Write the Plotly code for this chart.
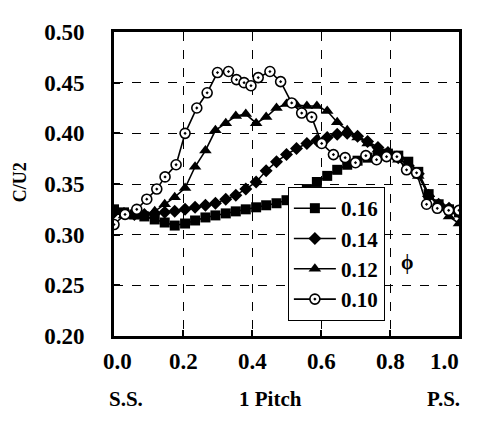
import plotly.graph_objects as go

# ---- data ----
x_std = [0.0, 0.029, 0.059, 0.088, 0.118, 0.147, 0.176, 0.206, 0.235, 0.265,
         0.294, 0.324, 0.353, 0.382, 0.412, 0.441, 0.471, 0.5, 0.529, 0.559,
         0.588, 0.618, 0.647, 0.676, 0.706, 0.735, 0.765, 0.794, 0.824, 0.853,
         0.882, 0.912, 0.941, 0.971, 1.0]

y_016 = [0.325, 0.322, 0.320, 0.318, 0.315, 0.312, 0.309, 0.311, 0.314, 0.317,
         0.319, 0.321, 0.323, 0.325, 0.327, 0.329, 0.331, 0.334, 0.339, 0.345,
         0.352, 0.358, 0.364, 0.369, 0.373, 0.376, 0.379, 0.380, 0.378, 0.372,
         0.362, 0.340, 0.330, 0.325, 0.322]

y_014 = [0.322, 0.321, 0.320, 0.320, 0.321, 0.322, 0.323, 0.325, 0.327, 0.329,
         0.331, 0.335, 0.339, 0.345, 0.352, 0.363, 0.372, 0.379, 0.385, 0.390,
         0.393, 0.396, 0.399, 0.400, 0.397, 0.392, 0.386, 0.381, 0.376, 0.368,
         0.360, 0.338, 0.330, 0.326, 0.322]

y_012 = [0.322, 0.319, 0.318, 0.319, 0.323, 0.330, 0.337, 0.346, 0.367, 0.383,
         0.403, 0.410, 0.417, 0.419, 0.410, 0.416, 0.425, 0.429, 0.428, 0.427,
         0.427, 0.422, 0.411, 0.403, 0.396, 0.390, 0.384, 0.380, 0.374, 0.364,
         0.358, 0.340, 0.328, 0.318, 0.311]

x_010 = [0.0, 0.032, 0.066, 0.095, 0.124, 0.148, 0.18, 0.206, 0.24, 0.27,
         0.30, 0.332, 0.355, 0.377, 0.397, 0.418, 0.452, 0.483, 0.515, 0.544,
         0.573, 0.602, 0.636, 0.67, 0.70, 0.73, 0.761, 0.79, 0.82, 0.848,
         0.877, 0.906, 0.937, 0.97, 1.0]
y_010 = [0.310, 0.320, 0.325, 0.335, 0.345, 0.357, 0.369, 0.400, 0.425, 0.440,
         0.460, 0.461, 0.453, 0.450, 0.447, 0.455, 0.461, 0.451, 0.430, 0.420,
         0.416, 0.390, 0.379, 0.376, 0.371, 0.378, 0.374, 0.377, 0.377, 0.364,
         0.361, 0.330, 0.326, 0.324, 0.324]

x_ticks = [0.0, 0.2, 0.4, 0.6, 0.8, 1.0]
x_ticktext = ["0.0", "0.2", "0.4", "0.6", "0.8", "1.0"]
y_ticks = [0.20, 0.25, 0.30, 0.35, 0.40, 0.45, 0.50]
y_ticktext = ["0.20", "0.25", "0.30", "0.35", "0.40", "0.45", "0.50"]

SERIF = "Liberation Serif"

fig = go.Figure()

series = [
    ("0.16", x_std, y_016, dict(symbol="square", size=10, color="black")),
    ("0.14", x_std, y_014, dict(symbol="diamond", size=10, color="black")),
    ("0.12", x_std, y_012, dict(symbol="triangle-up", size=11, color="black")),
    ("0.10", x_010, y_010, dict(symbol="circle-dot", size=10, color="white",
                                line=dict(color="black", width=1.6))),
]
for name, xs, ys, mk in series:
    fig.add_trace(go.Scatter(
        x=xs, y=ys, name="<b>%s</b>" % name, mode="lines+markers",
        line=dict(color="black", width=1.6), marker=mk,
    ))

fig.update_xaxes(
    range=[0, 1], tickvals=x_ticks, showticklabels=False,
    showline=True, linecolor="black", linewidth=3, mirror=True,
    ticks="inside", ticklen=6, tickwidth=2, tickcolor="black",
    showgrid=True, gridcolor="black", gridwidth=1, griddash="dash",
    zeroline=False,
)
fig.update_yaxes(
    range=[0.2, 0.5], tickvals=y_ticks, ticktext=["<b>%s</b>" % t for t in y_ticktext],
    showline=True, linecolor="black", linewidth=3, mirror=True,
    ticks="inside", ticklen=6, tickwidth=2, tickcolor="black",
    showgrid=True, gridcolor="black", gridwidth=1, griddash="dash",
    zeroline=False, tickfont=dict(size=23, family=SERIF, color="black"),
    ticklabelstandoff=22,
)

annotations = []
for i, (v, t) in enumerate(zip(x_ticks, x_ticktext)):
    last = i == len(x_ticks) - 1
    annotations.append(dict(
        text="<b>%s</b>" % t, x=v, y=-0.085, xref="x", yref="paper",
        xanchor="right" if last else "center", yanchor="middle",
        xshift=2 if last else (3 if i == 0 else 0),
        showarrow=False, font=dict(size=23, family=SERIF, color="black")))

annotations += [
    dict(text="<b>C/U2</b>", textangle=-90, x=-0.272, y=0.506, xref="paper", yref="paper",
         xanchor="center", yanchor="middle", showarrow=False,
         font=dict(size=18, family=SERIF, color="black")),
    dict(text="<b>S.S.</b>", x=-0.02, y=-0.208, xref="paper", yref="paper",
         xanchor="left", yanchor="middle", showarrow=False,
         font=dict(size=21, family=SERIF, color="black")),
    dict(text="<b>1 Pitch</b>", x=0.455, y=-0.208, xref="paper", yref="paper",
         xanchor="center", yanchor="middle", showarrow=False,
         font=dict(size=21, family=SERIF, color="black")),
    dict(text="<b>P.S.</b>", x=1.0, y=-0.208, xref="paper", yref="paper",
         xanchor="right", yanchor="middle", xshift=3, showarrow=False,
         font=dict(size=21, family=SERIF, color="black")),
    dict(text="<b>ϕ</b>", x=0.849, y=0.273, xref="x", yref="y",
         xanchor="center", yanchor="middle", showarrow=False,
         font=dict(size=20, family=SERIF, color="black")),
]

fig.update_layout(
    width=471, height=413,
    margin=dict(l=106, r=20, t=16, b=85),
    paper_bgcolor="white", plot_bgcolor="white",
    font=dict(family=SERIF, color="black"),
    showlegend=True,
    legend=dict(
        x=0.504, y=0.49, xanchor="left", yanchor="top",
        bgcolor="white", bordercolor="black", borderwidth=1,
        font=dict(size=21, family=SERIF, color="black"),
        itemwidth=42, tracegroupgap=0,
    ),
    annotations=annotations,
)

fig.write_html("out.html")
